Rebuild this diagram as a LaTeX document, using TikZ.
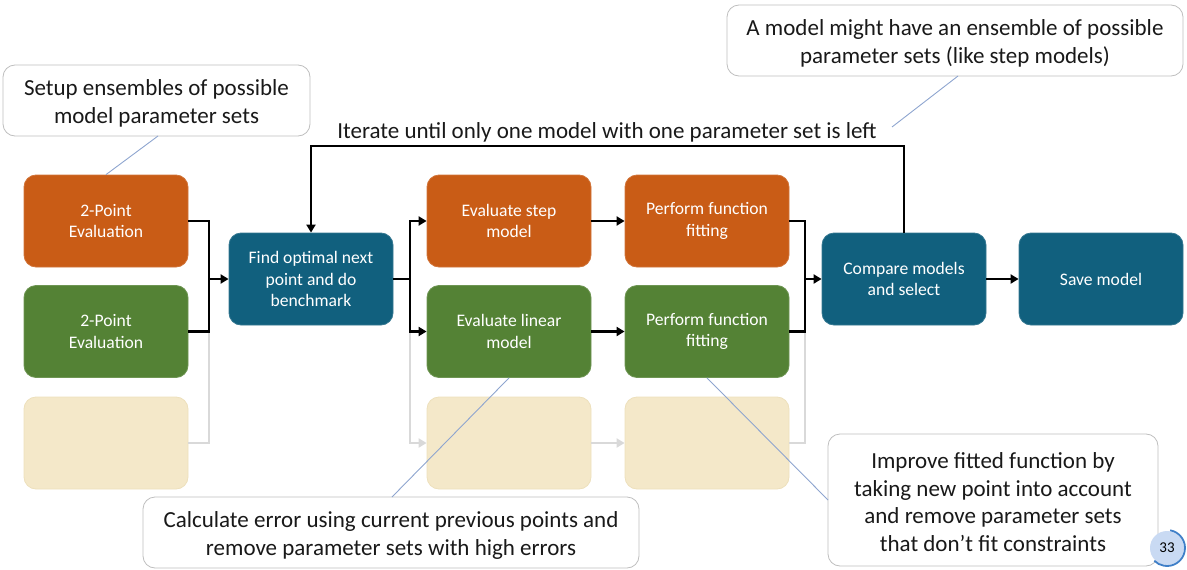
\documentclass[tikz,border=0pt]{standalone}
\usepackage{fontspec}
\setmainfont{Carlito}
\usetikzlibrary{arrows.meta,calc}
\definecolor{procorange}{HTML}{C95C16}
\definecolor{procgreen}{HTML}{548235}
\definecolor{procblue}{HTML}{11607E}
\definecolor{procbeige}{HTML}{F4E8C9}
\definecolor{beigeedge}{HTML}{EDE0BC}
\definecolor{idleline}{HTML}{D9D9D9}
\definecolor{noteedge}{HTML}{BFBFBF}
\definecolor{noteline}{HTML}{8EA5CF}
\definecolor{pagefill}{HTML}{C9DAF3}
\definecolor{pagering}{HTML}{3F7FC8}
\tikzset{
  proc/.style={rounded corners=12pt, minimum width=164pt, minimum height=92pt,
    inner sep=0pt, align=center, text=white, font=\fontsize{17.6}{21.5}\selectfont},
  orangebox/.style={proc, fill=procorange, draw=procorange!85!white, line width=0.8pt},
  greenbox/.style={proc, fill=procgreen, draw=procgreen!85!white, line width=0.8pt},
  bluebox/.style={proc, fill=procblue, draw=procblue!85!white, line width=0.8pt},
  idlebox/.style={proc, fill=procbeige, draw=beigeedge, line width=0.8pt},
  note/.style={draw=noteedge, line width=0.8pt, rounded corners=12pt, fill=white,
    inner sep=0pt},
  notetext/.style={inner sep=0pt, align=center, text=black!90,
    font=\fontsize{23}{28}\selectfont},
  flow/.style={draw=black, line width=2.5pt, -{Triangle[length=8pt,width=9pt]}},
  flowline/.style={draw=black, line width=2.5pt},
  idle/.style={draw=idleline, line width=2.5pt},
  idlearrow/.style={idle, -{Triangle[length=8pt,width=9pt]}},
  pointer/.style={draw=noteline, line width=0.9pt},
}
\begin{document}
\begin{tikzpicture}[x=1pt,y=-1pt]
\useasboundingbox (0,0) rectangle (1187,570);

% process boxes
\node[orangebox] (p1) at (106,221) {2-Point\\Evaluation};
\node[greenbox]  (p2) at (106,331.5) {2-Point\\Evaluation};
\node[idlebox]   (p3) at (106,443) {};
\node[bluebox]   (find) at (311,279) {Find optimal next\\point and do\\benchmark};
\node[orangebox] (es) at (509,221) {Evaluate step\\model};
\node[greenbox]  (el) at (509,331.5) {Evaluate linear\\model};
\node[idlebox]   (ei) at (509,443) {};
\node[orangebox] (fs) at (707,221) {Perform function\\fitting};
\node[greenbox]  (fl) at (707,331.5) {Perform function\\fitting};
\node[idlebox]   (fi) at (707,443) {};
\node[bluebox]   (cmp) at (904,279) {Compare models\\and select};
\node[bluebox]   (save) at (1101,279) {Save model};

% inactive branch (drawn first, underneath)
\draw[idle] (p3.east) -| (209,331.5);
\draw[idlearrow] (410,331.5) |- (ei.west);
\draw[idlearrow] (ei.east) -- (fi.west);
\draw[idle] (fi.east) -| (805,331.5);

% joins and splits
\draw[flowline] (p1.east) -| (209,331.5) -- (p2.east);
\draw[flow] (209,279) -- (find.west);
\draw[flowline] (find.east) -- (410,279);
\draw[flow] (410,279) |- (es.west);
\draw[flow] (410,279) |- (el.west);
\draw[flow] (es.east) -- (fs.west);
\draw[flow] (el.east) -- (fl.west);
\draw[flowline] (fs.east) -| (805,331.5) -- (fl.east);
\draw[flow] (805,279) -- (cmp.west);
\draw[flow] (cmp.east) -- (save.west);

% iteration loop
\draw[flow] (cmp.north) |- (311,146) -- (find.north);
\node[notetext] (iter) at (607,132)
  {Iterate until only one model with one parameter set is left};

% annotation boxes
\node[note, minimum width=307pt, minimum height=71pt] (n1) at (156.5,100.5) {};
\node[note, minimum width=456pt, minimum height=71pt] (n2) at (955,40.5) {};
\node[note, minimum width=496pt, minimum height=71pt] (n3) at (391,532.5) {};
\node[note, minimum width=330pt, minimum height=132pt] (n4) at (993,500) {};

% annotation texts
\node[notetext] (n1t) at ($(n1.center)+(0,3)$)
  {Setup ensembles of possible\\model parameter sets};
\node[notetext] (n2t) at ($(n2.center)+(0,3)$)
  {A model might have an ensemble of possible\\parameter sets (like step models)};
\node[notetext] (n3t) at ($(n3.center)+(0,3)$)
  {Calculate error using current previous points and\\remove parameter sets with high errors};
\node[notetext, font=\fontsize{23}{27.5}\selectfont] (n4t) at ($(n4.center)+(0,2)$)
  {Improve fitted function by\\taking new point into account\\and remove parameter sets\\that don’t fit constraints};

% annotation pointers
\coordinate (n1foot) at (158,136);
\coordinate (n2foot) at (958,76);
\coordinate (n2tip) at (892,127);
\coordinate (n3foot) at (392,497);
\coordinate (n4foot) at (828,500);
\draw[pointer] (n1foot) -- (p1.north);
\draw[pointer] (n2foot) -- (n2tip);
\draw[pointer] (el.south) -- (n3foot);
\draw[pointer] (fl.south) -- (n4foot);

% page number badge
\node[circle, fill=pagefill, minimum size=34pt, inner sep=0pt,
  font=\fontsize{15}{18}\selectfont] (page) at (1167,548) {33};
\draw[pagering, line width=1.8pt] ($(page.center)+(80:18pt)$) arc[start angle=80, end angle=-135, radius=18pt];
\end{tikzpicture}
\end{document}
